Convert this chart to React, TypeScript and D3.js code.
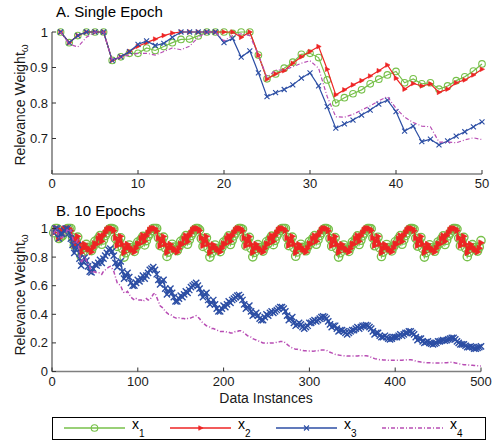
import React from "react";
import * as d3 from "d3";

// ---- Panel A: single epoch, data instances 1..50 ----
const instancesA = d3.range(1, 51);

const x1A = [1, .97, .99, 1, 1, 1, .92, .93, .94, .94, .955, .948, .959, .97, .979, .98, .989, 1, 1, 1,
  .996, 1, 1, .935, .868, .882, .898, .915, .937, .94, .928, .865, .80, .815, .826, .837, .854, .867, .879, .889,
  .857, .868, .854, .857, .839, .848, .863, .874, .89, .91];
const x2A = [1, .97, .99, 1, 1, 1, .92, .93, .945, .96, .97, .98, .99, .997, 1, 1, 1, 1, 1, 1,
  1, .985, 1, .935, .867, .882, .891, .912, .93, .945, .959, .895, .823, .837, .851, .863, .876, .891, .907, .87,
  .839, .855, .848, .854, .83, .839, .857, .865, .879, .895];
const x3A = [1, .97, .99, 1, 1, 1, .92, .93, .945, .965, .975, .962, .968, .985, 1, 1, 1, 1, 1, .97,
  .982, .929, .947, .885, .818, .829, .838, .851, .87, .885, .848, .79, .729, .741, .752, .766, .78, .797, .808, .776,
  .721, .735, .691, .698, .682, .693, .707, .719, .733, .747];
const x4A = [1, .966, .958, .985, 1, 1, .92, .93, .935, .94, .94, .935, .945, .955, .95, .96, .985, 1, 1, .975,
  .99, .995, .99, .935, .872, .893, .893, .902, .912, .919, .898, .818, .761, .76, .768, .78, .792, .806, .818, .785,
  .76, .745, .735, .733, .69, .69, .688, .696, .702, .697];

// ---- Panel B: 10 epochs, read every 2nd instance (2..500) ----
const instancesB = d3.range(2, 501, 2);

const x1B = [
  .97, 1, 1, .93, .94, .948, .97, .98, 1, 1, 1, .935, .882, .915, .94, .865, .805, .837, .867, .889, .868, .857, .845, .874, .91,
  .90, .93, .95, .89, .92, .95, .97, .99, 1, 1, .995, .93, .875, .91, .935, .86, .80, .83, .86, .885, .865, .855, .84, .87, .905,
  .895, .925, .945, .885, .915, .945, .965, .985, 1, 1, 1, .935, .88, .912, .94, .865, .805, .835, .865, .89, .87, .855, .845, .872, .91,
  .90, .93, .95, .89, .92, .95, .97, .99, 1, 1, .99, .93, .875, .91, .935, .86, .80, .83, .86, .885, .862, .852, .838, .868, .905,
  .90, .928, .948, .888, .918, .948, .968, .988, 1, 1, .995, .932, .878, .912, .938, .862, .802, .833, .862, .887, .866, .855, .842, .87, .907,
  .897, .927, .947, .887, .917, .947, .967, .987, 1, 1, 1, .935, .88, .913, .94, .865, .806, .836, .866, .89, .868, .856, .844, .872, .908,
  .90, .93, .95, .89, .92, .95, .97, .99, 1, 1, .993, .93, .876, .91, .936, .86, .80, .83, .86, .885, .864, .853, .84, .869, .905,
  .898, .928, .948, .888, .918, .948, .968, .988, 1, 1, .997, .934, .879, .912, .939, .864, .804, .835, .864, .888, .867, .856, .843, .871, .907,
  .90, .93, .95, .89, .92, .95, .97, .99, 1, 1, .995, .932, .877, .911, .937, .861, .80, .831, .861, .886, .865, .854, .841, .869, .906,
  .898, .928, .948, .888, .918, .948, .968, .988, 1, 1, .996, .933, .878, .912, .938, .863, .803, .834, .863, .887, .866, .855, .842, .87, .915,
];
const x2B = [
  .97, 1, 1, .93, .96, .98, .997, 1, 1, 1, .985, .935, .882, .912, .945, .895, .83, .863, .891, .87, .855, .854, .835, .865, .895,
  .89, .93, .95, .91, .95, .97, .99, 1, 1, 1, .985, .935, .88, .91, .945, .89, .83, .86, .89, .87, .855, .85, .835, .862, .893,
  .892, .93, .952, .91, .948, .97, .99, 1, 1, 1, .982, .933, .878, .91, .944, .89, .832, .862, .89, .868, .853, .85, .834, .86, .892,
  .89, .928, .95, .908, .95, .968, .99, 1, 1, 1, .986, .935, .88, .912, .945, .892, .83, .86, .888, .87, .856, .851, .836, .863, .894,
  .891, .93, .95, .91, .949, .97, .989, 1, 1, 1, .984, .934, .879, .91, .943, .89, .831, .861, .89, .869, .854, .85, .835, .861, .893,
  .89, .929, .951, .909, .95, .97, .99, 1, 1, 1, .985, .935, .881, .911, .945, .891, .83, .86, .889, .87, .855, .85, .834, .862, .894,
  .892, .93, .95, .91, .95, .969, .99, 1, 1, 1, .983, .933, .879, .91, .944, .89, .832, .862, .89, .868, .854, .851, .835, .861, .892,
  .89, .93, .951, .91, .949, .97, .99, 1, 1, 1, .986, .935, .88, .912, .945, .892, .83, .86, .889, .87, .855, .85, .836, .863, .894,
  .891, .929, .95, .909, .95, .97, .99, 1, 1, 1, .984, .934, .88, .911, .944, .891, .831, .861, .89, .869, .855, .85, .835, .862, .893,
  .89, .93, .95, .91, .95, .97, .99, 1, 1, 1, .985, .935, .88, .91, .945, .89, .83, .86, .89, .87, .855, .85, .835, .862, .9,
];
const x3B = [
  .97, 1, 1, .93, .965, .962, .985, 1, 1, .97, .929, .885, .829, .851, .885, .79, .741, .766, .797, .776, .735, .698, .693, .719, .747,
  .74, .76, .78, .76, .79, .81, .83, .85, .86, .84, .81, .76, .73, .75, .77, .70, .65, .67, .69, .66, .62, .60, .60, .62, .64,
  .63, .65, .67, .65, .67, .69, .71, .72, .73, .71, .68, .64, .61, .63, .64, .58, .54, .56, .58, .55, .52, .49, .49, .51, .53,
  .52, .54, .56, .55, .57, .59, .60, .61, .62, .60, .58, .55, .52, .54, .55, .50, .47, .48, .50, .47, .44, .42, .42, .44, .46,
  .45, .47, .49, .48, .50, .51, .52, .53, .535, .52, .50, .47, .44, .45, .46, .42, .39, .40, .41, .39, .37, .36, .36, .38, .40,
  .39, .41, .42, .41, .42, .43, .44, .45, .45, .44, .42, .39, .36, .37, .38, .34, .32, .33, .34, .33, .31, .30, .31, .32, .34,
  .34, .35, .36, .35, .36, .37, .38, .385, .38, .37, .35, .33, .31, .32, .32, .30, .28, .29, .29, .28, .27, .26, .27, .28, .29,
  .29, .30, .31, .30, .31, .32, .32, .325, .32, .31, .30, .28, .26, .27, .27, .25, .24, .24, .25, .24, .23, .225, .23, .24, .24,
  .24, .25, .26, .25, .26, .27, .27, .28, .28, .27, .26, .24, .22, .23, .23, .21, .20, .205, .21, .20, .195, .19, .195, .20, .21,
  .21, .215, .22, .215, .22, .225, .23, .235, .235, .225, .21, .20, .19, .19, .19, .18, .17, .17, .175, .17, .16, .16, .165, .17, .175,
];
const x4B = [
  .966, .985, 1, .93, .94, .935, .955, .96, 1, .975, .99, .935, .893, .902, .919, .818, .76, .78, .806, .78, .74, .733, .69, .696, .697,
  .69, .69, .69, .68, .70, .71, .72, .73, .735, .72, .70, .66, .62, .61, .60, .57, .55, .55, .56, .54, .52, .51, .50, .51, .50,
  .50, .50, .49, .50, .51, .50, .50, .52, .54, .55, .52, .49, .46, .45, .44, .42, .41, .40, .40, .39, .38, .375, .37, .375, .37,
  .37, .37, .365, .37, .37, .375, .38, .385, .39, .38, .37, .35, .34, .33, .32, .315, .31, .30, .30, .295, .29, .285, .28, .28, .28,
  .28, .275, .275, .27, .27, .275, .28, .28, .285, .285, .28, .27, .26, .25, .245, .24, .23, .225, .22, .215, .21, .205, .20, .20, .20,
  .197, .20, .20, .20, .20, .205, .205, .21, .21, .21, .20, .19, .18, .17, .165, .16, .155, .155, .15, .15, .148, .145, .145, .143, .143,
  .143, .142, .143, .145, .145, .148, .15, .15, .15, .148, .14, .135, .13, .125, .12, .118, .115, .113, .112, .11, .11, .108, .108, .108, .108,
  .108, .108, .108, .11, .11, .11, .11, .11, .108, .105, .10, .095, .09, .088, .085, .083, .082, .08, .08, .08, .078, .078, .078, .078, .078,
  .078, .078, .078, .079, .08, .08, .082, .082, .082, .08, .077, .073, .07, .068, .066, .064, .063, .062, .062, .061, .06, .06, .06, .06, .06,
  .06, .06, .061, .062, .062, .063, .064, .064, .063, .06, .057, .054, .052, .05, .048, .047, .046, .045, .044, .043, .042, .041, .04, .039, .038,
];

const ticksA_x = [0, 10, 20, 30, 40, 50];
const ticksA_y = [0.7, 0.8, 0.9, 1];
const ticksB_x = [0, 100, 200, 300, 400, 500];
const ticksB_y = [0, 0.2, 0.4, 0.6, 0.8, 1];

const seriesNames = ["1", "2", "3", "4"];
const COLORS = ["#77c04a", "#ee2424", "#2c4ea4", "#b84db4"];
const MARKERS = ["circle", "triangle", "cross", null];
const FONT = "Arial, 'Liberation Sans', Helvetica, sans-serif";
const AXIS = "#7f7f7f";
const DASH = "4,2,1,2";

function Marker({ kind, cx, cy, color, s = 1 }: any) {
  if (kind === "circle")
    return <circle cx={cx} cy={cy} r={3.3 * s} fill="none" stroke={color} strokeWidth={1.1 * s} />;
  if (kind === "triangle")
    return <path d={`M${cx - 1.8 * s},${cy - 2.3 * s}L${cx + 2.6 * s},${cy}L${cx - 1.8 * s},${cy + 2.3 * s}Z`} fill={color} stroke={color} strokeWidth={0.6 * s} />;
  if (kind === "cross") {
    const h = 2.5 * s;
    return <path d={`M${cx - h},${cy - h}L${cx + h},${cy + h}M${cx - h},${cy + h}L${cx + h},${cy - h}`} stroke={color} strokeWidth={1.1 * s} />;
  }
  return null;
}

function Series({ xs, ys, x, y, idx, s }: any) {
  const line = d3.line<number>().x((_, i) => x(xs[i])).y((d) => y(d));
  const color = COLORS[idx];
  return (
    <g>
      <path d={line(ys) || ""} fill="none" stroke={color} strokeWidth={1.2 * s} strokeDasharray={idx === 3 ? DASH : undefined} />
      {MARKERS[idx] && ys.map((v: number, i: number) => <Marker key={i} kind={MARKERS[idx]} cx={x(xs[i])} cy={y(v)} color={color} s={s} />)}
    </g>
  );
}

function Panel({ x, y, xt, yt, xs, data, title, titleY, labelCenter, s }: any) {
  const [x0, x1] = x.range();
  const [yb, yt0] = y.range();
  return (
    <g>
      <text x={56} y={titleY} fontSize={15} fill="#000">{title}</text>
      {data.map((ys: number[], i: number) => <Series key={i} xs={xs} ys={ys} x={x} y={y} idx={i} s={s} />)}
      <line x1={x0} x2={x0} y1={yb} y2={yt0} stroke={AXIS} strokeWidth={1.6} />
      <line x1={x0} x2={x1} y1={yb} y2={yb} stroke={AXIS} strokeWidth={1.6} />
      {yt.map((t: number) => (
        <g key={t}>
          <line x1={x0} x2={x0 + 4} y1={y(t)} y2={y(t)} stroke="#333" strokeWidth={1} />
          <text x={x0 - 4} y={y(t) + 4.5} fontSize={13} textAnchor="end" fill="#1a1a1a">{t === 0 || t === 1 ? String(t) : t.toFixed(1)}</text>
        </g>
      ))}
      {xt.map((t: number) => (
        <g key={t}>
          <line x1={x(t)} x2={x(t)} y1={yb} y2={yb - 4} stroke="#333" strokeWidth={1} />
          <text x={x(t)} y={yb + 14} fontSize={13} textAnchor="middle" fill="#1a1a1a">{t}</text>
        </g>
      ))}
      <text transform={`translate(25,${labelCenter}) rotate(-90)`} fontSize={14} textAnchor="middle" fill="#1a1a1a">
        Relevance Weight<tspan fontSize={10} dy={3}>ω</tspan>
      </text>
    </g>
  );
}

const legendLines = [[64, 125], [170, 231], [276, 337], [382, 443]];

export default function App() {
  const xA = d3.scaleLinear().domain([0, 50]).range([52, 482]);
  const yA = d3.scaleLinear().domain([0.6, 1]).range([174, 32]);
  const xB = d3.scaleLinear().domain([0, 500]).range([52, 481]);
  const yB = d3.scaleLinear().domain([0, 1]).range([371.5, 228.5]);

  return (
    <svg width={496} height={444} style={{ position: "absolute", left: 0, top: 0, background: "#fff" }} fontFamily={FONT}>
      <Panel x={xA} y={yA} xt={ticksA_x} yt={ticksA_y} xs={instancesA} data={[x1A, x2A, x3A, x4A]}
        title="A. Single Epoch" titleY={17} labelCenter={105} s={1} />
      <Panel x={xB} y={yB} xt={ticksB_x} yt={ticksB_y} xs={instancesB} data={[x1B, x2B, x3B, x4B]}
        title="B. 10 Epochs" titleY={216} labelCenter={295} s={1.25} />
      <text x={266} y={402.5} fontSize={14} textAnchor="middle" fill="#1a1a1a">Data Instances</text>
      <rect x={52.5} y={417.5} width={433} height={22} fill="#fff" stroke="#000" strokeWidth={1} />
      {seriesNames.map((n, i) => {
        const [a, b] = legendLines[i];
        return (
          <g key={n}>
            <line x1={a} x2={b} y1={428} y2={428} stroke={COLORS[i]} strokeWidth={1.3} strokeDasharray={i === 3 ? DASH : undefined} />
            <Marker kind={MARKERS[i]} cx={(a + b) / 2} cy={428} color={COLORS[i]} />
            <text x={b + 7} y={428.5} fontSize={14} fill="#000">x<tspan fontSize={10} dy={8}>{n}</tspan></text>
          </g>
        );
      })}
    </svg>
  );
}
